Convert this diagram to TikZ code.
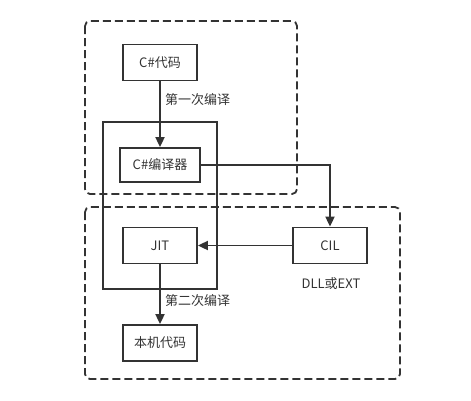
\documentclass[tikz,border=0pt]{standalone}
\usepackage{fontspec}
\setmainfont{Noto Sans CJK SC}
\usetikzlibrary{arrows.meta}
\definecolor{line-color}{RGB}{51,51,51}

\begin{document}
\begin{tikzpicture}[x=1pt,y=-1pt,
    box/.style={draw=line-color,line width=1.8pt,minimum width=74pt,minimum height=36pt,inner sep=0pt,font=\fontsize{13}{15}\selectfont,text=line-color},
    area/.style={draw=line-color,line width=1.8pt,dash pattern=on 8pt off 4pt,rounded corners=5pt},
    flow/.style={draw=line-color,line width=1.8pt,-{Triangle[length=10pt,width=9pt]}},
    note/.style={font=\fontsize{13}{15}\selectfont,text=line-color}]
    \useasboundingbox (0,0) rectangle (471,400);

    % dashed areas
    \draw[area] (85,21) rectangle (297,194);
    \draw[area] (85,207) rectangle (400,379);

    % runtime box
    \node[draw=line-color,line width=1.8pt,minimum width=114pt,minimum height=167pt,inner sep=0pt] (runtime) at (160,205.5) {};

    \node[box] (source) at (160,62.5) {C\#代码};
    \node[box,minimum width=80pt,minimum height=34pt] (compiler) at (160,165) {C\#编译器};
    \node[box] (jit) at (160,245.5) {JIT};
    \node[box] (cil) at (330,245.5) {CIL};
    \node[box] (native) at (160,343) {本机代码};

    \draw[flow] (source) -- (compiler) node[note,pos=0.27,right=1pt] {第一次编译};
    \draw[flow] (compiler.east) -| (cil.north);
    \draw[flow] (cil) -- (jit);
    \draw[flow] (jit) -- (native) node[note,pos=0.61,right=1pt] {第二次编译};

    \node[note] (format) at (331,284) {DLL或EXT};
\end{tikzpicture}
\end{document}
